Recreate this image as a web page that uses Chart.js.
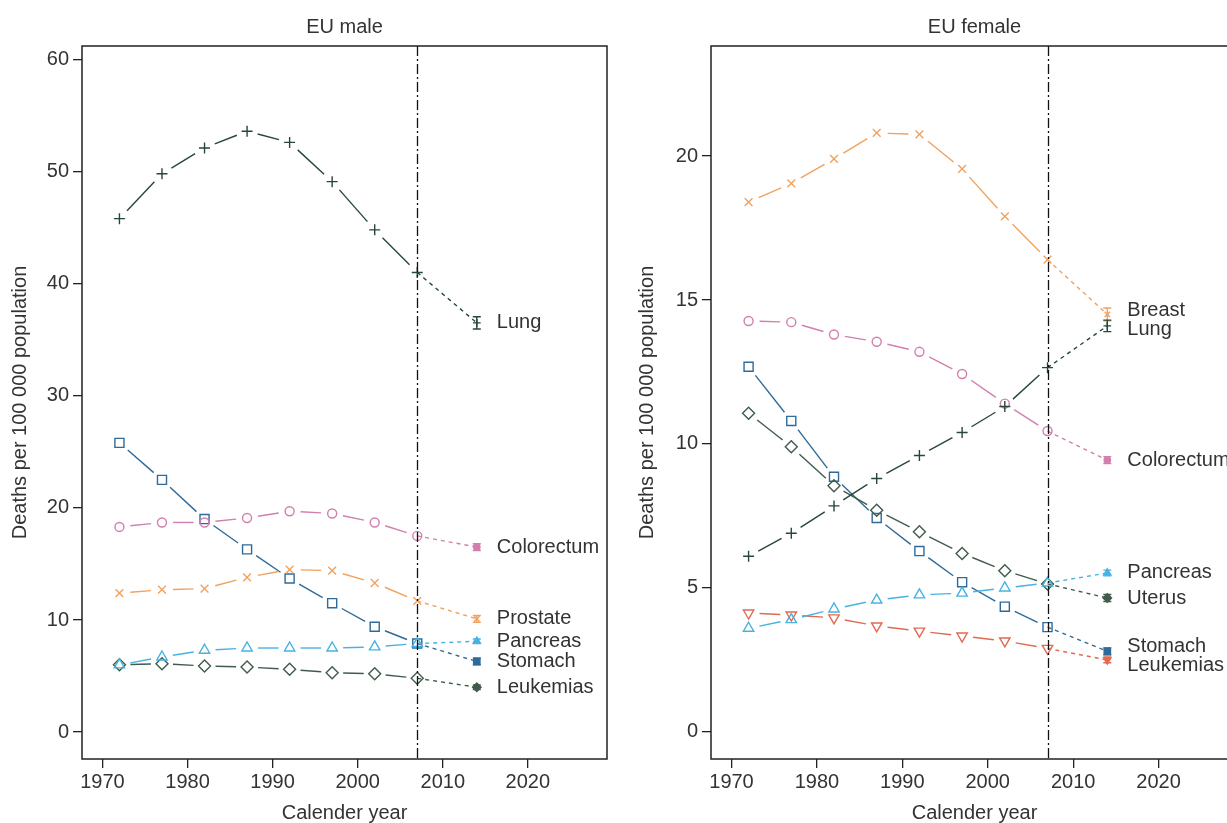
<!DOCTYPE html>
<html>
<head>
<meta charset="utf-8">
<script src="https://cdn.jsdelivr.net/npm/chart.js@4.4.1/dist/chart.umd.min.js"></script>
<style>
  html, body { margin: 0; padding: 0; background: #fff; }
  body { width: 1227px; height: 823px; overflow: hidden; position: relative; }
  .panel { position: absolute; top: 0; }
</style>
</head>
<body>
<div class="panel" style="left:0px"><canvas id="male" width="620" height="823"></canvas></div>
<div class="panel" style="left:627px"><canvas id="female" width="624" height="823"></canvas></div>
<script>
// years of the observed points, last one is the 2014 prediction
const years = [1972, 1977, 1982, 1987, 1992, 1997, 2002, 2007, 2014];
const xTicks = [1970, 1980, 1990, 2000, 2010, 2020];
const maleYTicks = [0, 10, 20, 30, 40, 50, 60];
const femaleYTicks = [0, 5, 10, 15, 20];
const cutYear = 2007;

// EU male, deaths per 100 000
const maleLung       = [45.8, 49.8, 52.1, 53.6, 52.6, 49.1, 44.8, 41.0, 36.5];
const maleColorectum = [18.3, 18.7, 18.7, 19.1, 19.7, 19.5, 18.7, 17.5, 16.5];
const maleProstate   = [12.4, 12.7, 12.8, 13.8, 14.5, 14.4, 13.3, 11.7, 10.1];
const malePancreas   = [6.0, 6.7, 7.3, 7.5, 7.5, 7.5, 7.6, 7.9, 8.1];
const maleStomach    = [25.8, 22.5, 19.0, 16.3, 13.7, 11.5, 9.4, 7.9, 6.3];
const maleLeukemias  = [6.0, 6.1, 5.9, 5.8, 5.6, 5.3, 5.2, 4.8, 4.0];
// half width of the 2014 prediction interval
const maleCI = { Lung: 0.55, Colorectum: 0.3, Prostate: 0.3, Pancreas: 0.2, Stomach: 0.3, Leukemias: 0.2 };

// EU female
const femaleBreast     = [18.4, 19.05, 19.9, 20.8, 20.75, 19.55, 17.9, 16.4, 14.5];
const femaleLung       = [6.1, 6.9, 7.85, 8.8, 9.6, 10.4, 11.3, 12.65, 14.1];
const femaleColorectum = [14.27, 14.23, 13.8, 13.55, 13.2, 12.43, 11.4, 10.45, 9.44];
const femalePancreas   = [3.6, 3.9, 4.27, 4.58, 4.76, 4.82, 5.0, 5.17, 5.52];
const femaleUterus     = [11.07, 9.9, 8.55, 7.7, 6.95, 6.2, 5.6, 5.14, 4.65];
const femaleStomach    = [12.68, 10.8, 8.86, 7.43, 6.28, 5.2, 4.35, 3.64, 2.8];
const femaleLeukemias  = [4.13, 4.06, 3.96, 3.68, 3.5, 3.33, 3.16, 2.9, 2.5];
const femaleCI = { Breast: 0.22, Lung: 0.2, Colorectum: 0.12, Pancreas: 0.1, Uterus: 0.12, Stomach: 0.12, Leukemias: 0.1 };

const FONT = "'Liberation Sans', Arial, Helvetica, sans-serif";
const TEXT = '#333';
const AXIS = '#222';

const C = {
  lung: '#26473a',
  colorectum: '#d27fae',
  prostate: '#f0a25e',
  pancreas: '#46b3e2',
  stomach: '#2f6a98',
  leukM: '#3f5c4a',
  leukF: '#e06a52',
  uterus: '#3f5c4a'
};

function series(label, values, color, style, radius, rotation) {
  return { label, values, color, style, radius, rotation: rotation || 0 };
}

const maleSeries = [
  series('Lung', maleLung, C.lung, 'cross', 5.5),
  series('Colorectum', maleColorectum, C.colorectum, 'circle', 4.5),
  series('Prostate', maleProstate, C.prostate, 'crossRot', 5.5),
  series('Pancreas', malePancreas, C.pancreas, 'triangle', 6),
  series('Stomach', maleStomach, C.stomach, 'rect', 6.4),
  series('Leukemias', maleLeukemias, C.leukM, 'rectRot', 6)
];
const femaleSeries = [
  series('Breast', femaleBreast, C.prostate, 'crossRot', 5.5),
  series('Lung', femaleLung, C.lung, 'cross', 5.5),
  series('Colorectum', femaleColorectum, C.colorectum, 'circle', 4.5),
  series('Pancreas', femalePancreas, C.pancreas, 'triangle', 6),
  series('Uterus', femaleUterus, C.uterus, 'rectRot', 6),
  series('Stomach', femaleStomach, C.stomach, 'rect', 6.4),
  series('Leukemias', femaleLeukemias, C.leukF, 'triangle', 6, 180)
];

const last = years.length - 1;
const GAP = 11; // gap between line and marker, like R type="b"

function toDatasets(list) {
  return list.map(s => ({
    label: s.label,
    data: years.map((yr, i) => ({ x: yr, y: s.values[i] })),
    borderColor: s.color,
    borderWidth: 1.4,
    pointStyle: s.style,
    pointRotation: s.rotation,
    pointRadius: years.map((_, i) => i === last ? s.radius * 0.7 : s.radius),
    pointBorderColor: s.color,
    pointBackgroundColor: years.map((_, i) => i === last ? s.color : 'rgba(0,0,0,0)'),
    pointBorderWidth: 1.4,
    tension: 0,
    segment: {
      borderDash: ctx => {
        if (ctx.p1DataIndex === last) return [4, 4];
        const L = Math.hypot(ctx.p1.x - ctx.p0.x, ctx.p1.y - ctx.p0.y);
        const k = ctx.p0DataIndex * 0.01;
        if (L <= 2 * GAP) return [0, L + 1 + k];
        return [0, GAP, L - 2 * GAP, L + k];
      }
    }
  }));
}

const decor = {
  id: 'decor',
  afterDatasetsDraw(chart, args, opts) {
    const { ctx, chartArea: a } = chart;
    const xs = chart.scales.x, ys = chart.scales.y;
    ctx.save();

    // vertical dash-dot line at the last observed year
    const xc = Math.round(xs.getPixelForValue(cutYear)) + 0.5;
    ctx.strokeStyle = '#111';
    ctx.lineWidth = 1.3;
    ctx.setLineDash([10, 3, 2, 3]);
    ctx.beginPath();
    ctx.moveTo(xc, a.top);
    ctx.lineTo(xc, a.bottom);
    ctx.stroke();
    ctx.setLineDash([]);

    // prediction intervals at 2014 and end labels
    const xp = xs.getPixelForValue(years[last]);
    const items = [];
    opts.series.forEach(s => {
      const v = s.values[last];
      const h = opts.ci[s.label] || 0;
      const y0 = ys.getPixelForValue(v - h), y1 = ys.getPixelForValue(v + h);
      ctx.strokeStyle = s.color;
      ctx.lineWidth = 1.4;
      ctx.beginPath();
      ctx.moveTo(xp, y0); ctx.lineTo(xp, y1);
      ctx.moveTo(xp - 4, y0); ctx.lineTo(xp + 4, y0);
      ctx.moveTo(xp - 4, y1); ctx.lineTo(xp + 4, y1);
      ctx.stroke();
      items.push({ text: s.label, y: ys.getPixelForValue(v) });
    });

    // keep labels apart
    items.sort((p, q) => p.y - q.y);
    for (let n = 0; n < 30; n++) {
      for (let i = 1; i < items.length; i++) {
        const d = items[i].y - items[i - 1].y;
        if (d < 19) {
          const s = (19 - d) / 2;
          items[i].y += s; items[i - 1].y -= s;
        }
      }
    }
    ctx.fillStyle = TEXT;
    ctx.font = '20px ' + FONT;
    ctx.textAlign = 'left';
    ctx.textBaseline = 'middle';
    items.forEach(it => ctx.fillText(it.text, xp + 20, it.y));

    // frame
    ctx.strokeStyle = AXIS;
    ctx.lineWidth = 1.5;
    ctx.strokeRect(a.left, a.top, a.right - a.left, a.bottom - a.top);

    // panel title
    ctx.fillStyle = TEXT;
    ctx.textAlign = 'center';
    ctx.fillText(opts.title, (a.left + a.right) / 2, 27);
    ctx.restore();
  }
};

function makeChart(id, list, ci, yTicks, yMin, yMax, title, axisW) {
  return new Chart(document.getElementById(id), {
    type: 'line',
    data: { datasets: toDatasets(list) },
    plugins: [decor],
    options: {
      responsive: false,
      animation: false,
      events: [],
      layout: { padding: { top: 46, right: 13, left: 0, bottom: 0 } },
      plugins: {
        legend: { display: false },
        tooltip: { enabled: false },
        decor: { series: list, ci, title }
      },
      scales: {
        x: {
          type: 'linear',
          min: 1967.6,
          max: 2029.3,
          afterBuildTicks: sc => { sc.ticks = xTicks.map(v => ({ value: v })); },
          afterFit: sc => { sc.height = 64; },
          grid: { drawOnChartArea: false, tickLength: 9, color: AXIS, lineWidth: 1.3 },
          border: { display: false },
          ticks: { color: TEXT, padding: 2, font: { family: FONT, size: 20 }, callback: v => String(v) },
          title: { display: true, text: 'Calender year', color: TEXT, font: { family: FONT, size: 20, lineHeight: 1 }, padding: 0 }
        },
        y: {
          type: 'linear',
          min: yMin,
          max: yMax,
          afterBuildTicks: sc => { sc.ticks = yTicks.map(v => ({ value: v })); },
          afterFit: sc => { sc.width = axisW; },
          grid: { drawOnChartArea: false, tickLength: 9, color: AXIS, lineWidth: 1.3 },
          border: { display: false },
          ticks: { color: TEXT, padding: 4, font: { family: FONT, size: 20 }, callback: v => String(v) },
          title: { display: true, text: 'Deaths per 100 000 population', color: TEXT, font: { family: FONT, size: 20, lineHeight: 1 }, padding: { top: 10, bottom: 0 } }
        }
      }
    }
  });
}

makeChart('male', maleSeries, maleCI, maleYTicks, -2.4, 61.2, 'EU male', 82);
makeChart('female', femaleSeries, femaleCI, femaleYTicks, -0.94, 23.82, 'EU female', 84);
</script>
</body>
</html>
